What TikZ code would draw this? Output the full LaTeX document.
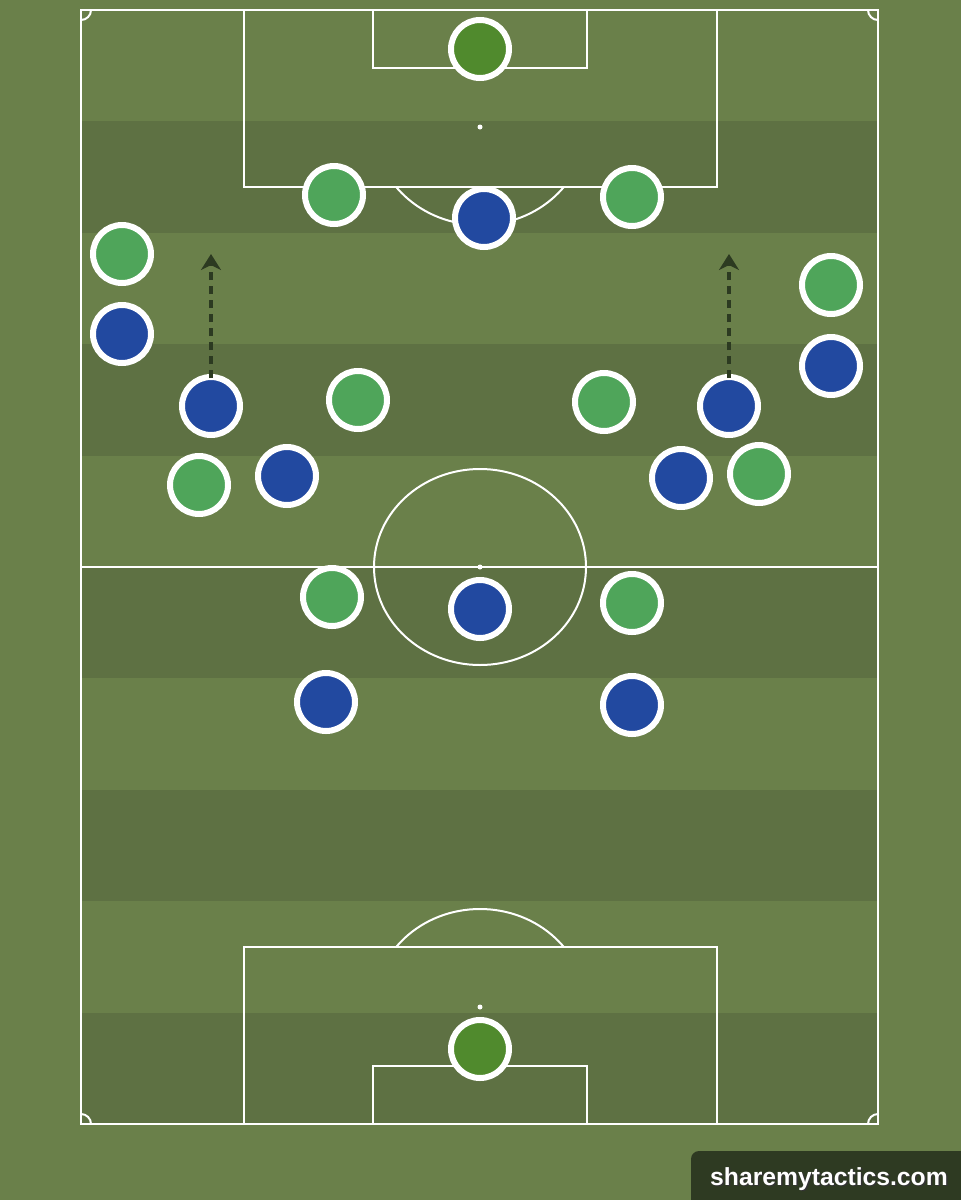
\documentclass[tikz,border=0pt]{standalone}
\usepackage{fontspec}
\setmainfont{Liberation Sans}
\usetikzlibrary{arrows.meta}
\definecolor{grassL}{RGB}{106,128,74}
\definecolor{grassD}{RGB}{94,113,67}
\definecolor{plGreen}{RGB}{79,165,90}
\definecolor{plBlue}{RGB}{34,73,160}
\definecolor{plKeeper}{RGB}{80,138,45}
\definecolor{arrowC}{RGB}{44,58,33}
\definecolor{logoBg}{RGB}{46,58,34}
\tikzset{
  pitchline/.style={draw=white, line width=2pt},
  player/.style={circle, draw=white, line width=6pt, minimum size=58pt, inner sep=0pt},
  greenp/.style={player, fill=plGreen},
  bluep/.style={player, fill=plBlue},
  keeper/.style={player, fill=plKeeper},
  runarrow/.style={draw=arrowC, line width=4.5pt, dash pattern=on 8pt off 6pt, -{Stealth[length=16pt,width=20pt,inset=5pt]}},
}
\begin{document}
\begin{tikzpicture}[x=1pt,y=-1pt]
\useasboundingbox (0,0) rectangle (961,1200);
\fill[grassL] (0,0) rectangle (961,1200);
% stripes
\foreach \i in {1,3,5,7,9}{
  \fill[grassD] (81,{10+111.4*\i}) rectangle (878,{10+111.4*(\i+1)});
}
% pitch lines
\draw[pitchline] (81,10) rectangle (878,1124);
\draw[pitchline] (81,567) -- (878,567);
\draw[pitchline] (480,567) ellipse [x radius=106, y radius=98];
\fill[white] (480,567) circle (2.5);
% top
\draw[pitchline] (244,10) -- (244,187) -- (717,187) -- (717,10);
\draw[pitchline] (373,10) -- (373,68) -- (587,68) -- (587,10);
\fill[white] (480,127) circle (2.5);
\begin{scope}
\clip (81,187) rectangle (878,400);
\draw[pitchline] (480,127) ellipse [x radius=106, y radius=98];
\end{scope}
% bottom
\draw[pitchline] (244,1124) -- (244,947) -- (717,947) -- (717,1124);
\draw[pitchline] (373,1124) -- (373,1066) -- (587,1066) -- (587,1124);
\fill[white] (480,1007) circle (2.5);
\begin{scope}
\clip (81,947) rectangle (878,800);
\draw[pitchline] (480,1007) ellipse [x radius=106, y radius=98];
\end{scope}
% corner arcs
\begin{scope}
\clip (81,10) rectangle (878,1124);
\draw[pitchline] (81,10) circle (10);
\draw[pitchline] (878,10) circle (10);
\draw[pitchline] (81,1124) circle (10);
\draw[pitchline] (878,1124) circle (10);
\end{scope}
% players green
\node[keeper] (gk1) at (480,49) {};
\node[greenp] (g1) at (334,195) {};
\node[greenp] (g2) at (632,197) {};
\node[greenp] (g3) at (122,254) {};
\node[greenp] (g4) at (831,285) {};
\node[greenp] (g5) at (358,400) {};
\node[greenp] (g6) at (604,402) {};
\node[greenp] (g7) at (199,485) {};
\node[greenp] (g8) at (759,474) {};
\node[greenp] (g9) at (332,597) {};
\node[greenp] (g10) at (632,603) {};
% players blue
\node[bluep] (b1) at (484,218) {};
\node[bluep] (b2) at (122,334) {};
\node[bluep] (b3) at (831,366) {};
\node[bluep] (b4) at (211,406) {};
\node[bluep] (b5) at (729,406) {};
\node[bluep] (b6) at (287,476) {};
\node[bluep] (b7) at (681,478) {};
\node[bluep] (b8) at (480,609) {};
\node[bluep] (b9) at (326,702) {};
\node[bluep] (b10) at (632,705) {};
\node[keeper] (gk2) at (480,1049) {};
% arrows
\coordinate (t1) at (211,254);
\coordinate (t2) at (729,254);
\draw[runarrow] ([yshift=-4pt]b4.north) -- (t1);
\draw[runarrow] ([yshift=-4pt]b5.north) -- (t2);
% logo
\fill[logoBg, rounded corners=8pt] (691,1151) rectangle (990,1230);
\node[text=black!80, font=\bfseries\fontsize{24.7}{30}\selectfont, inner sep=0pt] (logoshadow) at (830.5,1180.5) {sharemytactics.com};
\node[text=white, font=\bfseries\fontsize{24.7}{30}\selectfont, inner sep=0pt] (logo) at (829,1179) {sharemytactics.com};
\end{tikzpicture}
\end{document}
